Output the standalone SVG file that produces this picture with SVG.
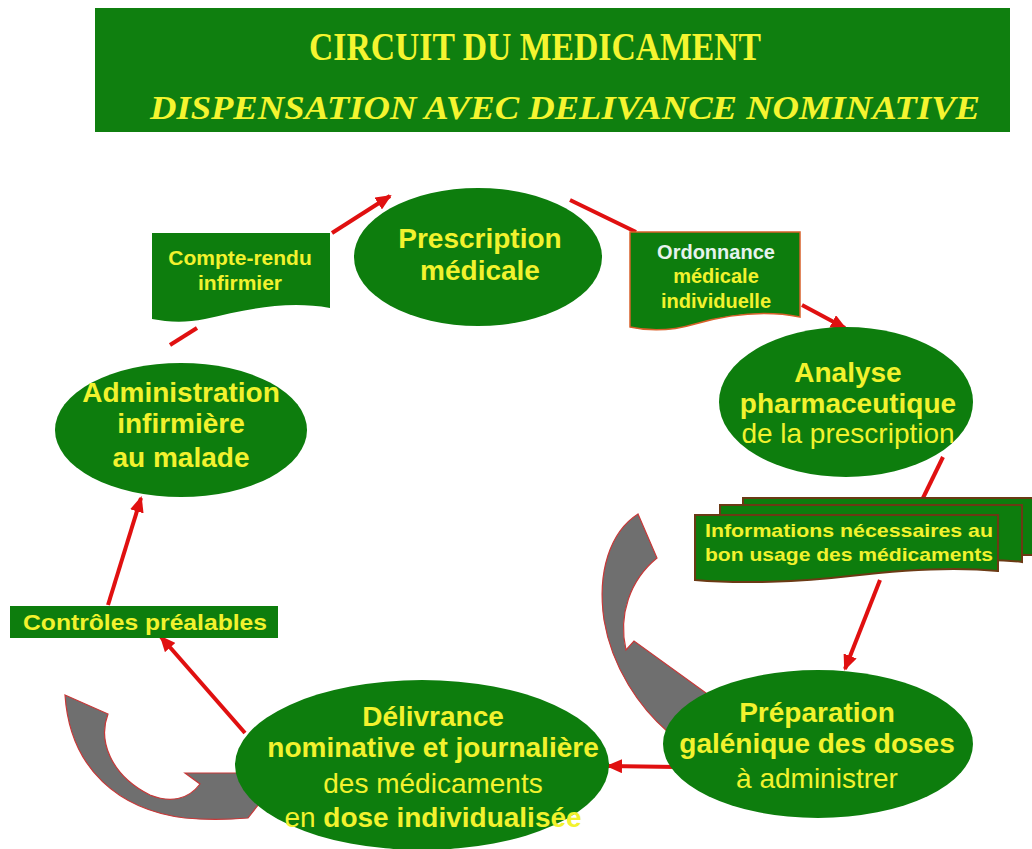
<svg xmlns="http://www.w3.org/2000/svg" width="1032" height="849" viewBox="0 0 1032 849">
<style>
.ell{fill:#0d7d0d;}
.t{font-family:"Liberation Sans",Arial,sans-serif;fill:#f2f22e;text-anchor:middle;}
.b{font-weight:bold;}
.n{font-size:28px;}
.bx{fill:#0d7d0d;}
.con{stroke:#e01010;stroke-width:4;fill:none;}
.arr{marker-end:url(#ah);}
.gray{fill:#6f6f6f;stroke:#c83838;stroke-width:1.2;}
</style>
<defs>
<marker id="ah" markerUnits="userSpaceOnUse" markerWidth="16" markerHeight="14" refX="14" refY="7" orient="auto">
<path d="M0,0 L16,7 L0,14 Z" fill="#e01010"/>
</marker>
</defs>
<rect width="1032" height="849" fill="#ffffff"/>
<g id="header">
<rect x="95" y="8" width="915" height="124" fill="#0f7f0f"/>
<text x="535" y="60" font-family="'Liberation Serif','Times New Roman',serif" font-weight="bold" font-size="40" fill="#f5f530" text-anchor="middle" textLength="452" lengthAdjust="spacingAndGlyphs">CIRCUIT DU MEDICAMENT</text>
<text x="565" y="119" font-family="'Liberation Serif','Times New Roman',serif" font-weight="bold" font-style="italic" font-size="34" fill="#f5f530" text-anchor="middle" textLength="830" lengthAdjust="spacingAndGlyphs">DISPENSATION AVEC DELIVANCE NOMINATIVE</text>
</g>
<g id="gray-arrows">
<path class="gray" d="M65,695 L108,714 C98,740 110,775 150,795 C170,803 188,800 200,784 L185,773 L248,773 L262,800 L248,818 C225,820 205,820 185,818 C120,810 70,770 65,695 Z"/>
<path class="gray" d="M638,514 L657,558 C630,580 618,615 626,650 L634,641 L706,693 L700,740 L668,732 C640,708 612,668 604,620 C597,572 610,532 638,514 Z"/>
</g>
<g id="connectors">
<line class="con" x1="170" y1="345" x2="197" y2="328"/>
<line class="con arr" x1="332" y1="233" x2="390" y2="196"/>
<line class="con" x1="570" y1="200" x2="636" y2="232"/>
<line class="con arr" x1="802" y1="305" x2="845" y2="328"/>
<line class="con" x1="943" y1="457" x2="923" y2="498"/>
<line class="con arr" x1="880" y1="580" x2="845" y2="669"/>
<line class="con arr" x1="677" y1="767" x2="608" y2="766"/>
<line class="con arr" x1="245" y1="733" x2="161" y2="637"/>
<line class="con arr" x1="108" y1="605" x2="141" y2="498"/>
</g>
<g id="compte-rendu">
<path class="bx" d="M152,233 L330,233 L330,308 C285,300 245,310 205,319 C185,323 168,322 152,319 Z"/>
<text class="t b" font-size="21"><tspan x="240" y="265">Compte-rendu</tspan><tspan x="240" y="290">infirmier</tspan></text>
</g>
<g id="prescription">
<ellipse class="ell" cx="478" cy="257" rx="124" ry="69"/>
<text class="t b n"><tspan x="480" y="248">Prescription</tspan><tspan x="480" y="280">médicale</tspan></text>
</g>
<g id="ordonnance">
<path class="bx" d="M630,232 L800,232 L800,317 C765,310 730,314 695,324 C668,332 648,331 630,327 Z" stroke="#d8602a" stroke-width="1.5"/>
<text class="t b" font-size="20"><tspan x="716" y="259" fill="#e6f3ee">Ordonnance</tspan><tspan x="716" y="283">médicale</tspan><tspan x="716" y="308">individuelle</tspan></text>
</g>
<g id="analyse">
<ellipse class="ell" cx="846" cy="402" rx="127" ry="75"/>
<text class="t n"><tspan class="b" x="848" y="382">Analyse</tspan><tspan class="b" x="848" y="413">pharmaceutique</tspan><tspan x="848" y="443">de la prescription</tspan></text>
</g>
<g id="informations">
<path class="bx" d="M743,498 L1040,498 L1040,555 L743,555 Z" stroke="#6b3a14" stroke-width="2"/>
<path class="bx" d="M720,505 L1022,505 L1022,562 C990,558 960,560 930,566 L720,566 Z" stroke="#6b3a14" stroke-width="2"/>
<path class="bx" d="M695,515 L998,515 L998,571 C950,566 900,570 850,576 C800,582 740,584 695,580 Z" stroke="#6b3a14" stroke-width="2"/>
<text class="t b" font-size="19"><tspan x="849" y="537" textLength="288" lengthAdjust="spacingAndGlyphs">Informations nécessaires au</tspan><tspan x="849" y="561" textLength="288" lengthAdjust="spacingAndGlyphs">bon usage des médicaments</tspan></text>
</g>
<g id="administration">
<ellipse class="ell" cx="181" cy="430" rx="126" ry="67"/>
<text class="t b n"><tspan x="181" y="402">Administration</tspan><tspan x="181" y="433">infirmière</tspan><tspan x="181" y="467">au malade</tspan></text>
</g>
<g id="controles">
<rect class="bx" x="10" y="606" width="268" height="32"/>
<text class="t b" font-size="22" x="145" y="630" textLength="244" lengthAdjust="spacingAndGlyphs">Contrôles préalables</text>
</g>
<g id="preparation">
<ellipse class="ell" cx="818" cy="744" rx="155" ry="74"/>
<text class="t n"><tspan class="b" x="817" y="722">Préparation</tspan><tspan class="b" x="817" y="753">galénique des doses</tspan><tspan x="817" y="788">à administrer</tspan></text>
</g>
<g id="delivrance">
<ellipse class="ell" cx="422" cy="765" rx="187" ry="85"/>
<text class="t n"><tspan class="b" x="433" y="726">Délivrance</tspan><tspan class="b" x="433" y="757">nominative et journalière</tspan><tspan x="433" y="793">des médicaments</tspan><tspan x="433" y="827">en <tspan class="b">dose individualisée</tspan></tspan></text>
</g>
</svg>
